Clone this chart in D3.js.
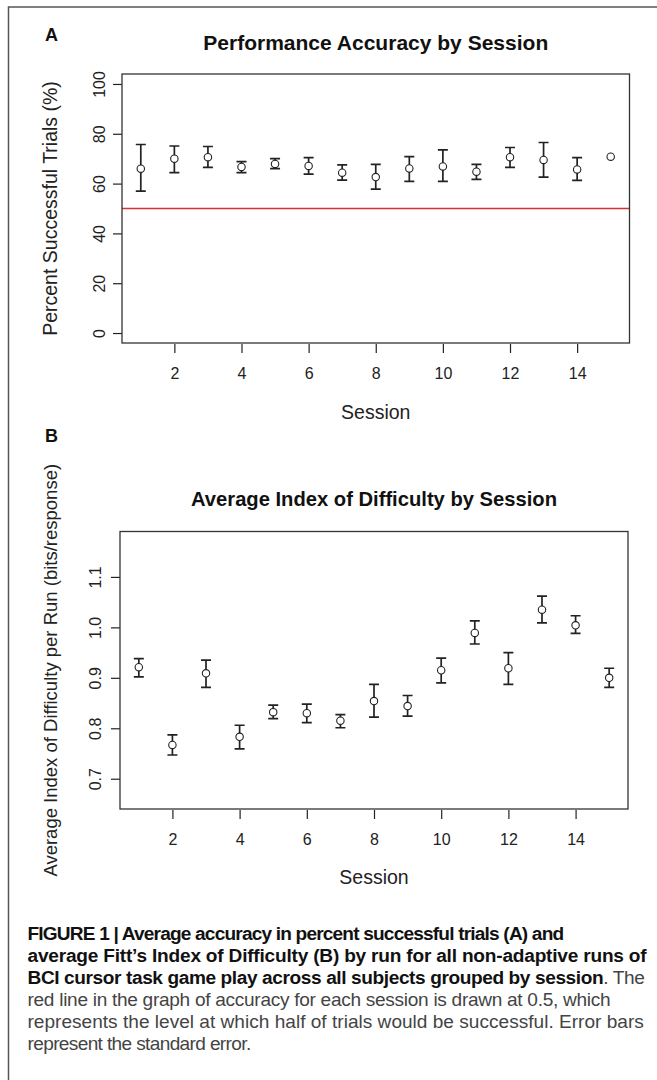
<!DOCTYPE html>
<html>
<head>
<meta charset="utf-8">
<script src="https://cdn.jsdelivr.net/npm/d3@7/dist/d3.min.js"></script>
<style>
 body { margin: 0; background: #fff; }
 svg { display: block; }
</style>
</head>
<body>
<svg id="fig" width="657" height="1080"></svg>
<script>
// session numbers, shared by both panels
const sessions = [1, 2, 3, 4, 5, 6, 7, 8, 9, 10, 11, 12, 13, 14, 15]

// panel A : percent successful trials, mean +/- standard error
const accMean  = [66.0, 70.0, 70.6, 66.7, 67.9, 67.1, 64.4, 62.6, 66.1, 66.9, 64.8, 70.6, 69.5, 65.7, 70.8]
const accLower = [57.0, 64.4, 66.5, 64.4, 66.0, 63.8, 61.4, 57.8, 60.9, 60.9, 61.7, 66.5, 62.6, 61.3, 70.8]
const accUpper = [75.7, 75.1, 74.9, 68.8, 70.0, 70.4, 67.5, 67.7, 70.8, 73.5, 67.7, 74.5, 76.5, 70.4, 70.8]
const accTicks = [0, 20, 40, 60, 80, 100]
const chanceLevel = 50

// panel B : index of difficulty (bits/response), mean +/- standard error
const idMean  = [0.921, 0.767, 0.909, 0.783, 0.832, 0.830, 0.815, 0.854, 0.844, 0.915, 0.989, 0.919, 1.035, 1.004, 0.900]
const idLower = [0.902, 0.747, 0.881, 0.759, 0.819, 0.811, 0.801, 0.822, 0.824, 0.890, 0.967, 0.887, 1.009, 0.988, 0.881]
const idUpper = [0.938, 0.787, 0.935, 0.806, 0.846, 0.848, 0.827, 0.887, 0.865, 0.939, 1.013, 0.950, 1.062, 1.023, 0.919]
const idTicks = [0.7, 0.8, 0.9, 1.0, 1.1]

const sessionTicks = [2, 4, 6, 8, 10, 12, 14]

const svg = d3.select("#fig")
const ink = "#222"
const sans = "Liberation Sans, Arial, Helvetica, sans-serif"
const narrow = "Liberation Sans Narrow, Arial Narrow, Liberation Sans, sans-serif"

// outer frame (open on right and bottom, like the cropped figure)
svg.append("path")
     .attr("d", "M8.5,1080 L8.5,7 L657,7")
     .attr("fill", "none")
     .attr("stroke", "#555")
     .attr("stroke-width", 1.5)

function drawPanel(p){
     const g = svg.append("g")

     const x = d3.scaleLinear().domain([0.44, 15.56]).range([p.left, p.right])
     const y = d3.scaleLinear().domain(p.yDomain).range([p.bottom, p.top])

     // panel letter
     g.append("text")
          .attr("x", p.letterX).attr("y", p.letterY)
          .attr("font-family", sans)
          .attr("font-weight", "bold")
          .attr("font-size", 18)
          .attr("fill", "#111")
          .text(p.letter)

     // title
     g.append("text")
          .attr("x", (p.left + p.right) / 2).attr("y", p.titleY)
          .attr("text-anchor", "middle")
          .attr("font-family", sans)
          .attr("font-weight", "bold")
          .attr("font-size", 21)
          .attr("fill", "#111")
          .attr("textLength", p.titleLen)
          .attr("lengthAdjust", "spacingAndGlyphs")
          .text(p.title)

     // x axis
     const xAxis = d3.axisBottom(x).tickValues(sessionTicks).tickSize(9).tickFormat(d3.format("d"))
     const gx = g.append("g")
          .attr("transform", `translate(0,${p.bottom + 1})`)
          .call(xAxis)
     gx.select(".domain").remove()
     gx.selectAll("line").attr("stroke", ink).attr("stroke-width", 1.2)
     gx.selectAll("text")
          .attr("font-family", sans)
          .attr("font-size", 16)
          .attr("fill", ink)
          .attr("dy", null)
          .attr("y", p.xTickTextY - p.bottom - 1)

     // y axis, labels rotated like base R (las = 0)
     const yAxis = d3.axisLeft(y).tickValues(p.yTicks).tickSize(9).tickFormat(p.yFormat)
     const gy = g.append("g")
          .attr("transform", `translate(${p.left},0)`)
          .call(yAxis)
     gy.select(".domain").remove()
     gy.selectAll("line").attr("stroke", ink).attr("stroke-width", 1.2)
     gy.selectAll("text")
          .attr("font-family", sans)
          .attr("font-size", 16)
          .attr("fill", ink)
          .attr("x", null).attr("dy", null)
          .attr("text-anchor", "middle")
          .attr("transform", `translate(${-p.yTickGap},0) rotate(-90)`)

     // axis titles
     g.append("text")
          .attr("x", (p.left + p.right) / 2).attr("y", p.xTitleY)
          .attr("text-anchor", "middle")
          .attr("font-family", sans)
          .attr("font-size", 19.5)
          .attr("fill", ink)
          .text("Session")

     g.append("text")
          .attr("transform", `translate(${p.yTitleX},${(p.top + p.bottom) / 2}) rotate(-90)`)
          .attr("text-anchor", "middle")
          .attr("font-family", sans)
          .attr("font-size", p.yTitleSize)
          .attr("fill", ink)
          .text(p.yTitle)

     // reference line
     if (p.hline !== undefined){
          g.append("line")
               .attr("x1", p.left).attr("x2", p.right)
               .attr("y1", y(p.hline)).attr("y2", y(p.hline))
               .attr("stroke", "#d9303a")
               .attr("stroke-width", 1.4)
     }

     // error bars
     const rows = sessions.map((s, i) => ({s: s, m: p.mean[i], lo: p.lower[i], hi: p.upper[i]}))
     const bars = g.append("g")
          .attr("stroke", ink).attr("stroke-width", 1.7).attr("fill", "none")
     rows.filter(d => y(d.lo) - y(d.hi) > 1).forEach(d => {
          const cx = x(d.s)
          bars.append("path")
               .attr("d", `M${cx},${y(d.lo)} L${cx},${y(d.hi)} M${cx - 5},${y(d.lo)} L${cx + 5},${y(d.lo)} M${cx - 5},${y(d.hi)} L${cx + 5},${y(d.hi)}`)
     })

     // points
     g.append("g").selectAll("circle")
          .data(rows)
          .enter().append("circle")
               .attr("cx", d => x(d.s))
               .attr("cy", d => y(d.m))
               .attr("r", 3.7)
               .attr("fill", "#fff")
               .attr("stroke", ink)
               .attr("stroke-width", 1.1)

     // plot box
     g.append("rect")
          .attr("x", p.left).attr("y", p.top)
          .attr("width", p.right - p.left).attr("height", p.bottom - p.top)
          .attr("fill", "none")
          .attr("stroke", "#333")
          .attr("stroke-width", 1.3)
}

drawPanel({
     letter: "A", letterX: 45, letterY: 41,
     title: "Performance Accuracy by Session", titleY: 50, titleLen: 345,
     left: 122, right: 629.5, top: 74, bottom: 343,
     yDomain: [-4, 104], yTicks: accTicks, yFormat: d3.format("d"), yTickGap: 17,
     xTickTextY: 379, xTitleY: 419,
     yTitle: "Percent Successful Trials (%)", yTitleX: 57, yTitleSize: 19.5,
     mean: accMean, lower: accLower, upper: accUpper,
     hline: chanceLevel
})

drawPanel({
     letter: "B", letterX: 45, letterY: 442,
     title: "Average Index of Difficulty by Session", titleY: 506, titleLen: 366,
     left: 120, right: 628, top: 531.5, bottom: 809,
     yDomain: [0.64, 1.19], yTicks: idTicks, yFormat: d3.format(".1f"), yTickGap: 19,
     xTickTextY: 845, xTitleY: 884,
     yTitle: "Average Index of Difficulty per Run (bits/response)", yTitleX: 57, yTitleSize: 18.5,
     mean: idMean, lower: idLower, upper: idUpper
})

// figure caption, one entry per printed line : [text, bold] parts
const captionLines = [
     [["FIGURE 1 | Average accuracy in percent successful trials (A) and", true]],
     [["average Fitt\u2019s Index of Difficulty (B) by run for all non-adaptive runs of", true]],
     [["BCI cursor task game play across all subjects grouped by session", true], [". The", false]],
     [["red line in the graph of accuracy for each session is drawn at 0.5, which", false]],
     [["represents the level at which half of trials would be successful. Error bars", false]],
     [["represent the standard error.", false]]
]
// printed width of each line in the figure
const captionWidths = [536, 619, 617, 583, 616, 223]

const cap = svg.append("g")
     .attr("font-family", narrow)
     .attr("font-size", 20)
const capTexts = captionLines.map((parts, i) => {
     const t = cap.append("text")
          .attr("x", 27.5).attr("y", 940 + i * 22)
     parts.forEach(pt => {
          t.append("tspan")
               .attr("font-weight", pt[1] ? "bold" : "normal")
               .attr("fill", pt[1] ? "#111" : "#444")
               .text(pt[0])
     })
     return t
})
// fit the font on the widest plain line, then tighten the bold lines by letter spacing
const wide = capTexts[4].node().getComputedTextLength()
const fit = Math.max(15, Math.min(22, 20 * captionWidths[4] / wide))
cap.attr("font-size", fit)
capTexts.forEach((t, i) => {
     const natural = t.node().getComputedTextLength()
     const chars = t.text().length
     const ls = Math.max(-1.5, Math.min(0.6, (captionWidths[i] - natural) / chars))
     t.attr("letter-spacing", ls.toFixed(2))
})
</script>
</body>
</html>
